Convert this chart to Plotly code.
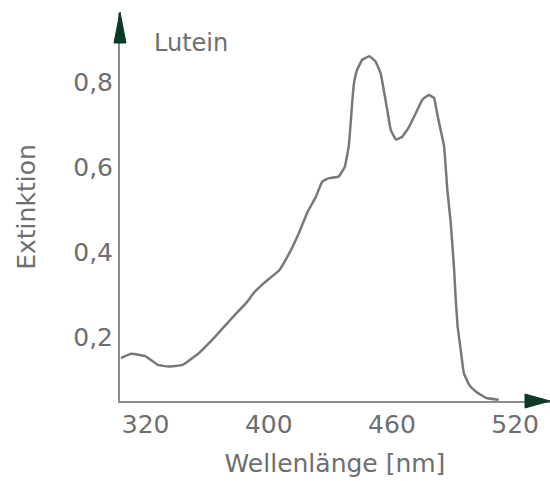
import plotly.graph_objects as go

# Data
wavelength_nm = [328, 333, 340, 346, 351, 358, 366, 374, 382, 389, 393, 398, 405, 410,
                 415, 419, 423, 426, 429, 434, 437, 439, 440.6, 441.5, 443, 445.5, 449,
                 452, 454.5, 456, 457.7, 459.4, 462, 465, 468, 471.6, 474.8, 478, 480.5,
                 482, 483.7, 485.4, 487, 488.6, 490.2, 491.1, 492, 493.5, 495, 497.6,
                 501, 506, 512]
extinktion = [0.150, 0.160, 0.154, 0.134, 0.130, 0.134, 0.162, 0.201, 0.244, 0.280,
              0.305, 0.328, 0.356, 0.397, 0.448, 0.495, 0.530, 0.565, 0.573, 0.577,
              0.600, 0.650, 0.750, 0.797, 0.828, 0.852, 0.860, 0.848, 0.820, 0.781,
              0.734, 0.687, 0.664, 0.671, 0.691, 0.726, 0.758, 0.769, 0.762, 0.726,
              0.687, 0.648, 0.545, 0.470, 0.365, 0.287, 0.224, 0.169, 0.115, 0.087,
              0.071, 0.056, 0.052]

x_tickvals = [340, 400, 460, 520]
x_ticktext = ["320", "400", "460", "520"]
y_tickvals = [0.2, 0.4, 0.6, 0.8]
y_ticktext = ["0,2", "0,4", "0,6", "0,8"]

FONT = "DejaVu Sans"
TXT = "#6e6e6e"
AXIS = "#8c8c8c"
ARROW = "#0d3a27"

fig = go.Figure()
fig.add_trace(go.Scatter(
    x=wavelength_nm, y=extinktion, mode="lines",
    line=dict(color="#787878", width=2.5, shape="spline", smoothing=0.3),
    showlegend=False, hoverinfo="skip",
))

fig.update_layout(
    width=550, height=481,
    margin=dict(l=120, r=0, t=13, b=80, autoexpand=False),
    paper_bgcolor="white", plot_bgcolor="white",
    font=dict(family=FONT, size=25, color=TXT),
    xaxis=dict(
        range=[327.5, 537], showgrid=False, zeroline=False,
        showline=True, linecolor=AXIS, linewidth=2,
        tickvals=x_tickvals, ticktext=x_ticktext,
        ticks="",
        tickfont=dict(family=FONT, size=25, color=TXT),
        title=dict(text="Wellenlänge [nm]", standoff=16,
                   font=dict(family=FONT, size=25, color=TXT)),
        automargin=False,
    ),
    yaxis=dict(
        range=[0.049, 0.962], showgrid=False, zeroline=False,
        showline=True, linecolor=AXIS, linewidth=2,
        tickvals=y_tickvals, ticktext=y_ticktext,
        ticks="",
        tickfont=dict(family=FONT, size=25, color=TXT),
        title=dict(text="Extinktion", standoff=30,
                   font=dict(family=FONT, size=25, color=TXT)),
        automargin=False,
    ),
)

# arrow heads at the axis ends
fig.add_shape(type="path", xref="paper", yref="paper",
              xsizemode="pixel", ysizemode="pixel", xanchor=0, yanchor=1,
              path="M 0 1 L -6 -30 L 6 -30 Z",
              fillcolor=ARROW, line=dict(color=ARROW, width=1))
fig.add_shape(type="path", xref="paper", yref="paper",
              xsizemode="pixel", ysizemode="pixel", xanchor=1, yanchor=0,
              path="M 0 0 L -25 7 L -25 -7 Z",
              fillcolor=ARROW, line=dict(color=ARROW, width=1))

fig.add_annotation(text="Lutein", xref="paper", yref="paper",
                   x=0.075, y=0.965, xanchor="left", yanchor="top",
                   showarrow=False, font=dict(family=FONT, size=24, color=TXT))

fig.write_html("out.html", config={"displayModeBar": False},
               post_script="document.body.style.margin='0';document.body.style.overflow='hidden';")
